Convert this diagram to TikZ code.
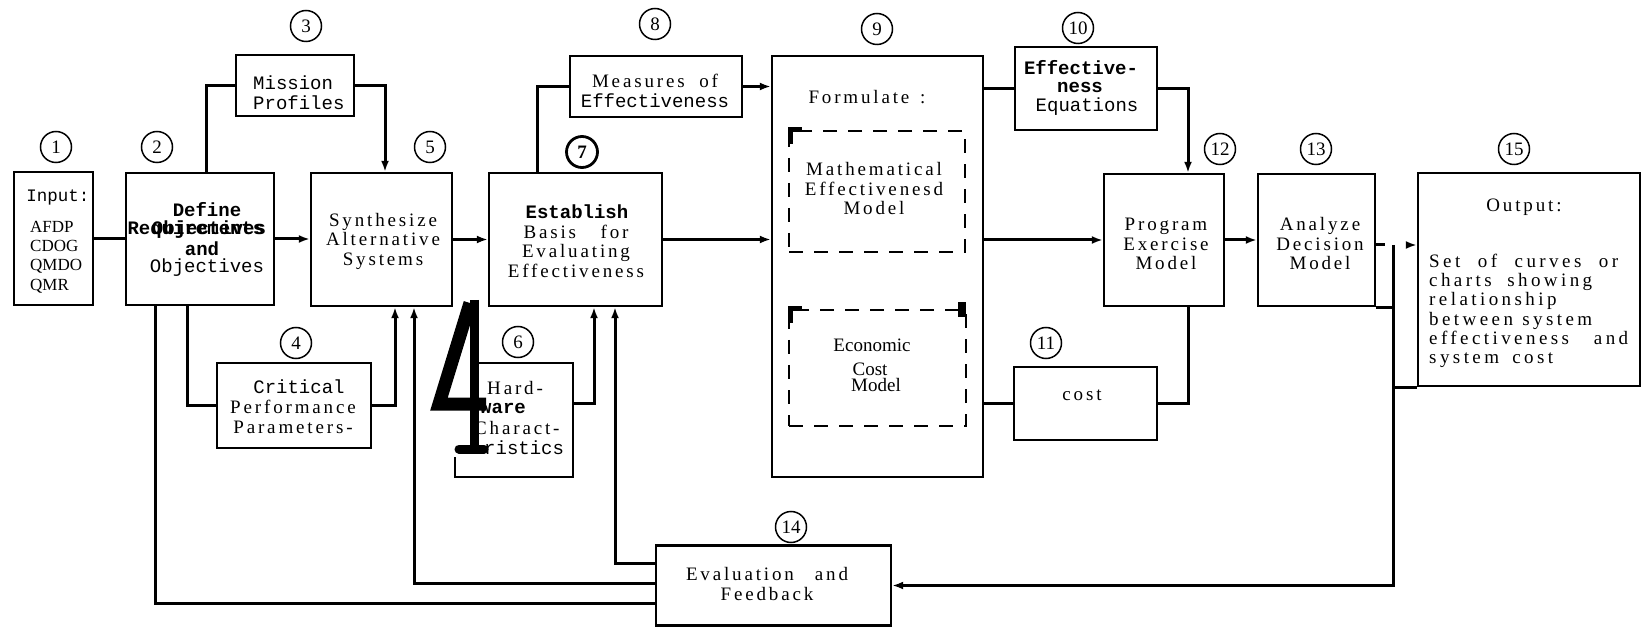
\documentclass[tikz,border=0pt]{standalone}
\usepackage{fontspec}
\setmainfont{Liberation Serif}
\setmonofont{Liberation Mono}
\newfontfamily\spc[LetterSpace=15]{Liberation Serif}
\newfontfamily\wspc[LetterSpace=18]{Liberation Serif}
\usetikzlibrary{arrows.meta}
\begin{document}
\begin{tikzpicture}[x=1pt,y=-1pt,
  box/.style={draw, line width=2.4pt, inner sep=0},
  edge/.style={line width=2.4pt},
  dbox/.style={draw, line width=2.6pt, dash pattern=on 14pt off 11pt, inner sep=0},
  conn/.style={line width=3pt},
  arr/.style={-{Latex[length=11pt,width=8pt]}},
  num/.style={circle, draw, line width=1.5pt, minimum size=31pt, inner sep=0, font=\fontsize{19}{19}\selectfont},
  ser/.style={font=\spc\fontsize{19}{19.5}\selectfont, align=center, inner sep=0},
  plain/.style={font=\fontsize{19}{19.5}\selectfont, align=center, inner sep=0},
  mono/.style={font=\ttfamily\fontsize{19}{20}\selectfont, align=center, inner sep=0},
  monob/.style={font=\ttfamily\bfseries\fontsize{19}{20}\selectfont, align=center, inner sep=0}]
\useasboundingbox (0,0) rectangle (1642,628);

% boxes
\node[box, minimum width=79pt, minimum height=133pt] (b1) at (53.5,238.5) {};
\node[box, minimum width=148pt, minimum height=132pt] (b2) at (200,239) {};
\node[box, minimum width=118pt, minimum height=61pt] (b3) at (295,85.5) {};
\node[box, minimum width=154pt, minimum height=85pt] (b4) at (294,405.5) {};
\node[box, minimum width=141pt, minimum height=133pt] (b5) at (381.5,239.5) {};
\node[inner sep=0, minimum width=118pt, minimum height=114pt] (b6) at (514,420) {};
\draw[edge] ([xshift=21pt]b6.north west) -- (b6.north east) -- (b6.south east) -- (b6.south west) -- ++(0,-20);
\node[box, minimum width=173pt, minimum height=133pt] (b7) at (575.5,239.5) {};
\node[box, minimum width=172pt, minimum height=61pt] (b8) at (656,86.5) {};
\node[box, minimum width=211pt, minimum height=421pt] (b9) at (877.5,266.5) {};
\node[dbox, minimum width=176pt, minimum height=121pt] (m) at (877,191.5) {};
\node[dbox, minimum width=177pt, minimum height=116pt] (e) at (877.5,368) {};
\node[box, minimum width=142pt, minimum height=83pt] (b10) at (1086,88.5) {};
\node[box, minimum width=143pt, minimum height=73pt] (b11) at (1085.5,403.5) {};
\node[box, minimum width=120pt, minimum height=132pt] (b12) at (1164,240) {};
\node[box, minimum width=117pt, minimum height=132pt] (b13) at (1316.5,240) {};
\node[box, minimum width=222pt, minimum height=213pt] (b15) at (1529,279.5) {};
\node[box, minimum width=235pt, minimum height=80pt] (b14) at (773.5,585.5) {};

% corner marks of dashed boxes
\draw[line width=4.5pt] (m.north west) ++(3,14) -- ++(0,-14) -- ++(11,0);
\draw[line width=4.5pt] (e.north west) ++(3,14) -- ++(0,-14) -- ++(11,0);
\fill (958,302) rectangle (966,317);

% numbers
\node[num] (n1) at (56,147) {1};
\node[num] (n2) at (157,147) {2};
\node[num] (n3) at (306,26) {3};
\node[num] (n4) at (296,343) {4};
\node[num] (n5) at (430,147) {5};
\node[num] (n6) at (518,342) {6};
\node[num, line width=2.8pt, font=\bfseries\fontsize{19}{19}\selectfont] (n7) at (582,152) {7};
\node[num] (n8) at (655,24) {8};
\node[num] (n9) at (877,29) {9};
\node[num] (n10) at (1078,28) {10};
\node[num] (n11) at (1046,343) {11};
\node[num] (n12) at (1220,149) {12};
\node[num] (n13) at (1316,149) {13};
\node[num] (n14) at (791,527) {14};
\node[num] (n15) at (1514,149) {15};

% texts
\node[font=\ttfamily\fontsize{17.5}{18}\selectfont, inner sep=0] (t1a) at (58,197) {Input:};
\node[font=\fontsize{17}{19.3}\selectfont, align=left, inner sep=0, anchor=west] (t1b) at (30,257) {AFDP\\CDOG\\QMDO\\QMR};
\node[monob] (t2a) at (207,210) {Define};
\node[monob] (t2b) at (196,230) {Requirements};
\node[monob] (t2c) at (209,230) {Objectives};
\node[monob] (t2d) at (202,249) {and};
\node[mono] (t2e) at (207,268) {Objectives};
\node[mono, align=left, anchor=west] (t3) at (253,93) {Mission\\Profiles};
\node[mono] (t4a) at (299,387) {Critical};
\node[ser] (t4b) at (293,417) {Performance\\Parameters-};
\node[ser] (t5) at (383,241) {Synthesize\\Alternative\\Systems};
\node[ser, anchor=west] (t6a) at (487,388) {Hard-};
\node[monob, anchor=west] (t6b) at (480,408) {ware};
\node[ser, anchor=west] (t6c) at (474,428) {Charact-};
\node[mono, anchor=west] (t6d) at (484,448) {ristics};
\node[monob] (t7a) at (577,212) {Establish};
\node[ser] (t7b) at (576,251) {\makebox[105pt][s]{Basis for}\\Evaluating\\Effectiveness};
\node[ser] (t8a) at (655,81) {\makebox[126pt][s]{Measures of}};
\node[mono] (t8b) at (655,101) {Effectiveness};
\node[ser] (t9) at (867,97) {\makebox[117pt][s]{Formulate :}};
\node[ser] (tm) at (874,189) {Mathematical\\Effectivenesd\\Model};
\node[plain] (te1) at (872,345) {Economic};
\node[plain] (te2) at (870,369) {Cost};
\node[plain] (te3) at (876,385) {Model};
\node[monob] (t10a) at (1081,68) {Effective-};
\node[monob] (t10b) at (1080,87) {ness};
\node[mono] (t10c) at (1087,107) {Equations};
\node[ser] (t11) at (1082,395) {cost};
\node[ser] (t12) at (1166,244) {Program\\Exercise\\Model};
\node[ser] (t13) at (1320,244) {Analyze\\Decision\\Model};
\node[ser] (t15a) at (1524,207) {Output:};
\node[font=\wspc\fontsize{19}{19.3}\selectfont, align=left, inner sep=0, anchor=west] (t15b) at (1429,311) {\makebox[189pt][s]{Set of curves or}\\\makebox[163pt][s]{charts showing}\\\makebox[139pt][l]{relationship}\\\makebox[163pt][s]{between system}\\\makebox[199pt][s]{effectiveness and}\\\makebox[124pt][s]{system cost}};
\node[ser] (t14) at (767,584) {\makebox[162pt][s]{Evaluation and}\\Feedback};

% big scanned "4"
\draw[line width=13pt, line join=miter] (470,303) -- (439,404) -- (486,404);
\draw[line width=9pt] (474,300) -- (474,450);
\draw[line width=9pt, line cap=round] (459,449) -- (484,449);

% helper coordinates
\coordinate (x155) at (155,0);
\coordinate (x187) at (187,0);
\coordinate (x206) at (206,0);
\coordinate (x385) at (385,0);
\coordinate (x395) at (395,0);
\coordinate (x414) at (414,0);
\coordinate (x537) at (537,0);
\coordinate (x594) at (594,0);
\coordinate (x615) at (615,0);
\coordinate (x1188) at (1188,0);
\coordinate (y245) at (0,245);
\coordinate (y403) at (0,403);
\coordinate (y563) at (0,563);
\coordinate (y583) at (0,583);
\coordinate (y603) at (0,603);
\coordinate (fbtop) at (1393,245);

% connectors
\draw[conn] (b1.east) -- (b2.west |- b1.east);
\draw[conn, arr] (b2.east) -- (b5.west |- b2.east);
\draw[conn] (b2.north -| x206) |- (b3.west);
\draw[conn, arr] (b3.east) -| (b5.north -| x385);
\draw[conn] (b2.south -| x187) |- (b4.west);
\draw[conn, arr] (b4.east) -| (b5.south -| x395);
\draw[conn, arr] (b5.east) -- (b7.west |- b5.east);
\draw[conn] (b7.north -| x537) |- (b8.west);
\draw[conn, arr] (b8.east) -- (b9.west |- b8.east);
\draw[conn, arr] (b7.east) -- (b9.west |- b7.east);
\draw[conn, arr] (b6.east |- y403) -| (b7.south -| x594);
\draw[conn] (b9.east |- b10.west) -- (b10.west);
\draw[conn, arr] (b10.east) -| (b12.north -| x1188);
\draw[conn, arr] (b9.east |- b12.west) -- (b12.west);
\draw[conn] (b9.east |- b11.west) -- (b11.west);
\draw[conn] (b11.east) -| (b12.south -| x1188);
\draw[conn, arr] (b12.east) -- (b13.west |- b12.east);
\draw[conn, arr, dash pattern=on 9pt off 22pt] (b13.east |- y245) -- (b15.west |- y245);
\draw[conn, arr] (fbtop) |- (b14.east);
\draw[conn] (b13.south east) -- (b13.south east -| fbtop);
\draw[conn] (b15.south west) -- (b15.south west -| fbtop);
\draw[conn, arr] (b14.west |- y563) -| (b7.south -| x615);
\draw[conn, arr] (b14.west |- y583) -| (b5.south -| x414);
\draw[conn] (b14.west |- y603) -| (b2.south -| x155);
\end{tikzpicture}
\end{document}
